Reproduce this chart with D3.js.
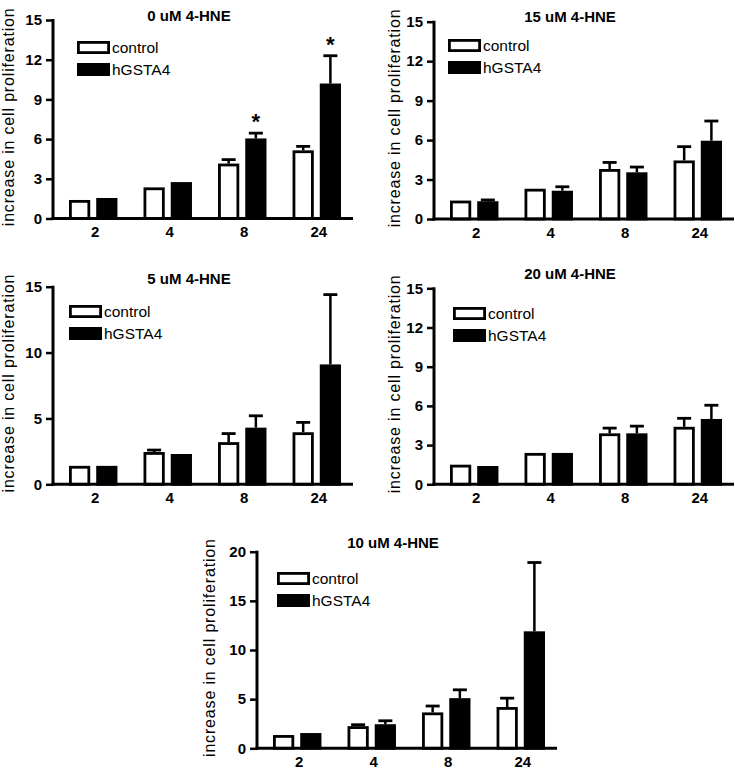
<!DOCTYPE html>
<html>
<head>
<meta charset="utf-8">
<script src="https://cdn.jsdelivr.net/npm/d3@7"></script>
<style>
  html, body { margin: 0; padding: 0; background: #fff; }
  svg { display: block; }
  text { font-family: "Liberation Sans", Arial, sans-serif; fill: #000; }
</style>
</head>
<body>
<div id="chart"></div>
<script>
// ---------------- data ----------------
const categories = ["2", "4", "8", "24"];
const seriesNames = ["control", "hGSTA4"];
const panelTitles = ["0 uM 4-HNE", "15 uM 4-HNE", "5 uM 4-HNE", "20 uM 4-HNE", "10 uM 4-HNE"];
const yAxisTitle = "increase in cell proliferation";

const control0 = [1.4, 2.35, 4.15, 5.15];
const control0Err = [0, 0, 0.3, 0.3];
const hgsta0 = [1.55, 2.75, 6.05, 10.2];
const hgsta0Err = [0, 0, 0.4, 2.1];
const stars0 = ["", "", "*", "*"];

const control15 = [1.4, 2.3, 3.8, 4.45];
const control15Err = [0, 0, 0.5, 1.05];
const hgsta15 = [1.35, 2.15, 3.55, 5.95];
const hgsta15Err = [0.1, 0.3, 0.4, 1.5];

const control5 = [1.4, 2.45, 3.2, 3.95];
const control5Err = [0, 0.15, 0.65, 0.75];
const hgsta5 = [1.4, 2.3, 4.3, 9.1];
const hgsta5Err = [0, 0, 0.9, 5.3];

const control20 = [1.5, 2.4, 3.9, 4.4];
const control20Err = [0, 0, 0.4, 0.65];
const hgsta20 = [1.4, 2.4, 3.9, 5.0];
const hgsta20Err = [0, 0, 0.55, 1.05];

const control10 = [1.35, 2.25, 3.65, 4.2];
const control10Err = [0, 0.15, 0.65, 0.9];
const hgsta10 = [1.55, 2.45, 5.1, 11.9];
const hgsta10Err = [0, 0.35, 0.85, 7.0];

const yMaxes = [15, 15, 15, 15, 20];
const yTicks0 = [0, 3, 6, 9, 12, 15];
const yTicks5 = [0, 5, 10, 15];
const yTicks10 = [0, 5, 10, 15, 20];

// ---------------- layout (positions only) ----------------
const layout = [
  { ax: 53,  top: 20,    base: 218.5, titleY: 21,  legX: 77,  legY: 41,  labX: 9 },
  { ax: 434, top: 21.7,  base: 219,   titleY: 22,  legX: 448, legY: 39,  labX: 395 },
  { ax: 53,  top: 286.7, base: 484.3, titleY: 284, legX: 69,  legY: 305, labX: 9 },
  { ax: 434, top: 288.3, base: 484.3, titleY: 279, legX: 453, legY: 307, labX: 395 },
  { ax: 257, top: 551.7, base: 748.3, titleY: 548, legX: 277, legY: 572, labX: 210 }
];

const panels = [
  { title: panelTitles[0], c: control0, ce: control0Err, h: hgsta0, he: hgsta0Err, stars: stars0, yMax: yMaxes[0], ticks: yTicks0 },
  { title: panelTitles[1], c: control15, ce: control15Err, h: hgsta15, he: hgsta15Err, stars: null, yMax: yMaxes[1], ticks: yTicks0 },
  { title: panelTitles[2], c: control5, ce: control5Err, h: hgsta5, he: hgsta5Err, stars: null, yMax: yMaxes[2], ticks: yTicks5 },
  { title: panelTitles[3], c: control20, ce: control20Err, h: hgsta20, he: hgsta20Err, stars: null, yMax: yMaxes[3], ticks: yTicks0 },
  { title: panelTitles[4], c: control10, ce: control10Err, h: hgsta10, he: hgsta10Err, stars: null, yMax: yMaxes[4], ticks: yTicks10 }
];

const W = 735, H = 770;
const svg = d3.select("#chart").append("svg").attr("width", W).attr("height", H);

const SW = 2.8; // bar stroke
const FONT = '"Liberation Sans", Arial, sans-serif';

panels.forEach((p, i) => {
  const L = layout[i];
  const g = svg.append("g");

  const y = d3.scaleLinear().domain([0, p.yMax]).range([L.base, L.top]);
  const x = d3.scaleBand().domain(categories)
    .range([L.ax + 16, L.ax + 288]).paddingInner(0.35).paddingOuter(0);
  const xs = d3.scaleBand().domain(seriesNames).range([0, x.bandwidth()]).paddingInner(0.22);

  const rows = categories.map((cat, k) => ({
    cat,
    vals: [
      { s: "control", v: p.c[k], e: p.ce[k], star: "" },
      { s: "hGSTA4", v: p.h[k], e: p.he[k], star: p.stars ? p.stars[k] : "" }
    ]
  }));

  // error bars (upper only)
  rows.forEach(r => {
    r.vals.forEach(d => {
      if (d.e > 0) {
        const cx = x(r.cat) + xs(d.s) + xs.bandwidth() / 2;
        g.append("line").attr("x1", cx).attr("x2", cx)
          .attr("y1", y(d.v)).attr("y2", y(d.v + d.e))
          .attr("stroke", "#000").attr("stroke-width", 2.5);
        g.append("line").attr("x1", cx - 7).attr("x2", cx + 7)
          .attr("y1", y(d.v + d.e)).attr("y2", y(d.v + d.e))
          .attr("stroke", "#000").attr("stroke-width", 2.8);
      }
    });
  });

  // bars
  const grp = g.selectAll("g.grp").data(rows).join("g")
    .attr("transform", d => `translate(${x(d.cat)},0)`);
  grp.selectAll("rect").data(d => d.vals).join("rect")
    .attr("x", d => xs(d.s) + SW / 2)
    .attr("width", xs.bandwidth() - SW)
    .attr("y", d => y(d.v) + SW / 2)
    .attr("height", d => Math.max(0, y(0) - y(d.v) - SW / 2))
    .attr("fill", d => d.s === "control" ? "#fff" : "#000")
    .attr("stroke", "#000").attr("stroke-width", SW);

  // stars
  rows.forEach(r => {
    r.vals.forEach(d => {
      if (d.star) {
        const cx = x(r.cat) + xs(d.s) + xs.bandwidth() / 2;
        g.append("text").attr("x", cx).attr("y", y(d.v + d.e) - 4)
          .attr("text-anchor", "middle").attr("font-size", 22).attr("font-weight", "bold")
          .text(d.star);
      }
    });
  });

  // y axis
  const yAxis = d3.axisLeft(y).tickValues(p.ticks).tickSize(7).tickPadding(4).tickFormat(d3.format("d"));
  const ya = g.append("g").attr("transform", `translate(${L.ax},0)`).call(yAxis);
  ya.select(".domain").remove();
  ya.selectAll(".tick line").attr("stroke", "#000").attr("stroke-width", 2.5);
  ya.selectAll(".tick text").attr("font-size", 15).attr("font-weight", "bold").style("font-family", FONT);
  g.append("line").attr("x1", L.ax).attr("x2", L.ax).attr("y1", L.top - 1).attr("y2", L.base + 1.5)
    .attr("stroke", "#000").attr("stroke-width", 3);

  // x axis
  const xAxis = d3.axisBottom(x).tickSize(0).tickPadding(8);
  const xa = g.append("g").attr("transform", `translate(0,${L.base})`).call(xAxis);
  xa.select(".domain").remove();
  xa.selectAll(".tick text").attr("font-size", 15).attr("font-weight", "bold")
    .attr("dx", 2).style("font-family", FONT);
  g.append("line").attr("x1", L.ax - 1.5).attr("x2", L.ax + 300).attr("y1", L.base).attr("y2", L.base)
    .attr("stroke", "#000").attr("stroke-width", 3);

  // title
  g.append("text").attr("x", L.ax + 136).attr("y", L.titleY)
    .attr("text-anchor", "middle").attr("font-size", 15).attr("font-weight", "bold")
    .text(p.title);

  // y-axis title
  g.append("text")
    .attr("transform", `translate(${L.labX + 5},${(L.top + L.base) / 2 - 2}) rotate(-90)`)
    .attr("text-anchor", "middle").attr("font-size", 16)
    .attr("textLength", 218).attr("lengthAdjust", "spacing")
    .text(yAxisTitle);

  // legend
  const leg = g.append("g").attr("transform", `translate(${L.legX},${L.legY})`);
  seriesNames.forEach((s, k) => {
    leg.append("rect").attr("x", 1.4).attr("y", k * 22 + 1.4).attr("width", 30.2).attr("height", 10.2)
      .attr("fill", k === 0 ? "#fff" : "#000").attr("stroke", "#000").attr("stroke-width", SW);
    leg.append("text").attr("x", 35).attr("y", k * 22 + 12)
      .attr("font-size", 15.5).text(s);
  });
});
</script>
</body>
</html>
